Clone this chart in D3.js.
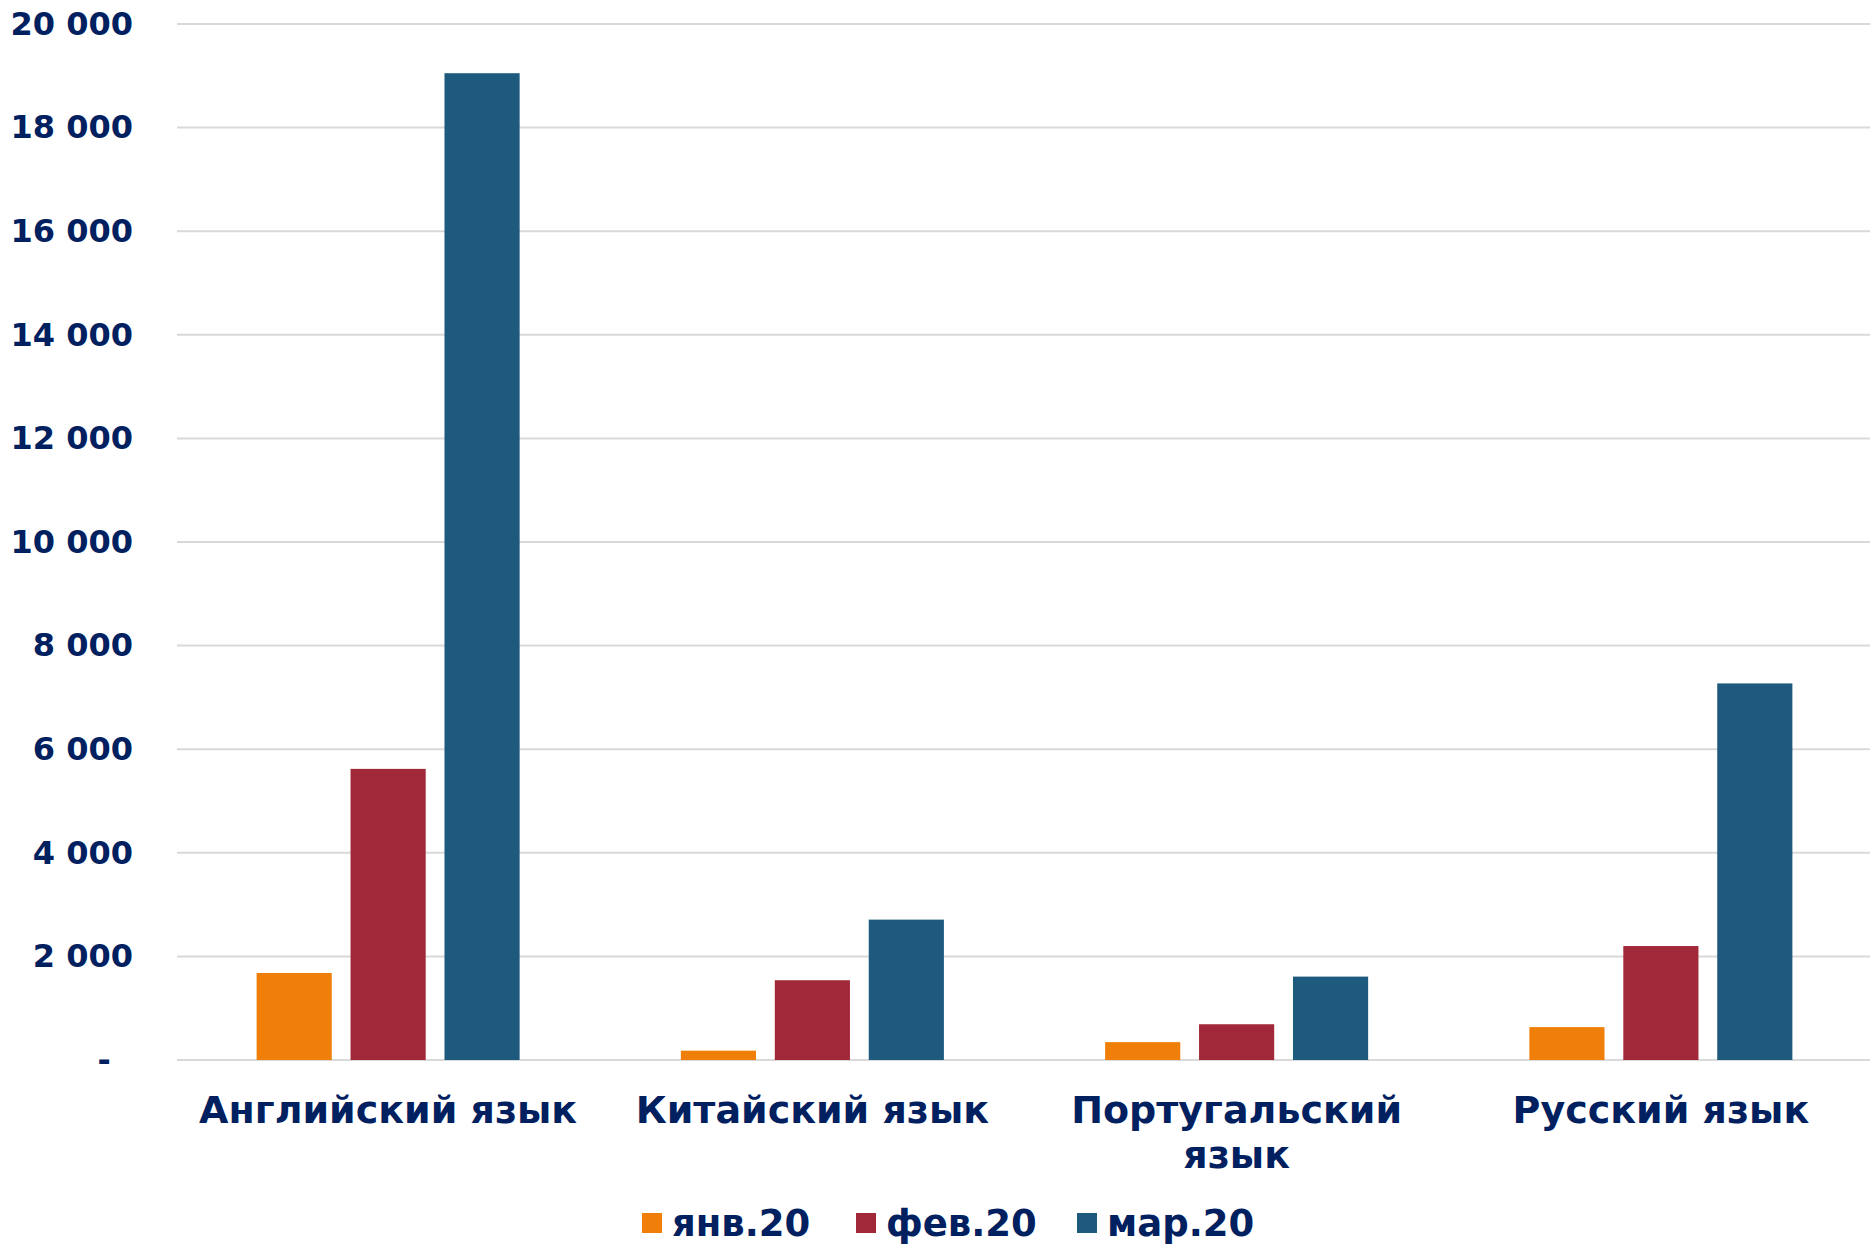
<!DOCTYPE html>
<html>
<head>
  <meta charset="utf-8">
  <title>Языки</title>
  <script src="https://cdn.jsdelivr.net/npm/d3@7"></script>
  <style>
    body { margin: 0; background: #fff; }
    text { font-family: "DejaVu Sans", Verdana, sans-serif; font-weight: bold; fill: #002060; }
  </style>
</head>
<body>
<script>
// data
var categories = ['Английский язык', 'Китайский язык', 'Португальский язык', 'Русский язык'];
var seriesNames = ['янв.20', 'фев.20', 'мар.20'];
var jan = [1680, 180, 345, 635];
var feb = [5620, 1540, 690, 2200];
var mar = [19050, 2710, 1610, 7270];
var yTicks = [0, 2000, 4000, 6000, 8000, 10000, 12000, 14000, 16000, 18000, 20000];

var colors = ['#f07f09', '#a02838', '#1d5a7d'];
var seriesValues = [jan, feb, mar];

var width = 1874,
    height = 1249;

var svg = d3.select('body')
  .append('svg')
  .attr('width', width)
  .attr('height', height);

var x0 = d3.scaleBand()
    .domain(categories)
    .range([176, 1873])
    .paddingInner(0.38)
    .paddingOuter(0.19);

var x1 = d3.scaleBand()
    .domain(seriesNames)
    .range([0, x0.bandwidth()])
    .paddingInner(0.2);

var y = d3.scaleLinear()
    .domain([0, 20000])
    .range([1060, 24]);

// gridlines
svg.append('g')
  .selectAll('line')
  .data(yTicks)
  .enter()
  .append('line')
  .attr('x1', 177)
  .attr('x2', 1870)
  .attr('y1', function(d) { return y(d); })
  .attr('y2', function(d) { return y(d); })
  .attr('stroke', '#d9d9d9')
  .attr('stroke-width', 2);

// y axis labels
var fmt = function(d) {
  if (d === 0) return '-\u00a0\u00a0';
  return d3.format(',')(d).replace(/,/g, ' ');
};
var yAxis = svg.append('g')
  .attr('transform', 'translate(177,0)')
  .call(d3.axisLeft(y).tickValues(yTicks).tickFormat(fmt).tickSize(0).tickPadding(44));
yAxis.select('.domain').remove();
yAxis.selectAll('text')
  .style('font-size', '32px')
  .attr('fill', '#002060');

// bars
var groups = svg.append('g')
  .selectAll('g')
  .data(categories)
  .enter()
  .append('g')
  .attr('transform', function(d) { return 'translate(' + x0(d) + ',0)'; });

groups.selectAll('rect')
  .data(function(d, i) {
    return seriesNames.map(function(s, j) { return { s: s, v: seriesValues[j][i], c: colors[j] }; });
  })
  .enter()
  .append('rect')
  .attr('x', function(d) { return x1(d.s); })
  .attr('y', function(d) { return y(d.v); })
  .attr('width', x1.bandwidth())
  .attr('height', function(d) { return y(0) - y(d.v); })
  .attr('fill', function(d) { return d.c; });

// x axis labels
var xAxis = svg.append('g')
  .attr('transform', 'translate(0,1060)')
  .call(d3.axisBottom(x0).tickSize(0).tickPadding(36));
xAxis.select('.domain').remove();
xAxis.selectAll('text')
  .style('font-size', '38px')
  .attr('fill', '#002060')
  .call(wrap, x0.step() - 10);

function wrap(text, w) {
  text.each(function() {
    var t = d3.select(this),
        words = t.text().split(/\s+/).reverse(),
        word,
        line = [],
        lineNumber = 0,
        lineHeight = 1.18,
        yy = t.attr('y'),
        dy = parseFloat(t.attr('dy')),
        tspan = t.text(null).append('tspan').attr('x', 0).attr('y', yy).attr('dy', dy + 'em');
    while ((word = words.pop())) {
      line.push(word);
      tspan.text(line.join(' '));
      if (tspan.node().getComputedTextLength() > w && line.length > 1) {
        line.pop();
        tspan.text(line.join(' '));
        line = [word];
        tspan = t.append('tspan').attr('x', 0).attr('y', yy)
          .attr('dy', ++lineNumber * lineHeight + dy + 'em').text(word);
      }
    }
  });
}

// legend
var legendX = [642, 856, 1077];
var legend = svg.append('g')
  .selectAll('g')
  .data(seriesNames)
  .enter()
  .append('g')
  .attr('transform', function(d, i) { return 'translate(' + legendX[i] + ',1213)'; });

legend.append('rect')
  .attr('width', 20)
  .attr('height', 20)
  .attr('fill', function(d, i) { return colors[i]; });

legend.append('text')
  .attr('x', 30)
  .attr('y', 10)
  .attr('dy', '0.36em')
  .style('font-size', '37px')
  .text(function(d) { return d; });
</script>
</body>
</html>
